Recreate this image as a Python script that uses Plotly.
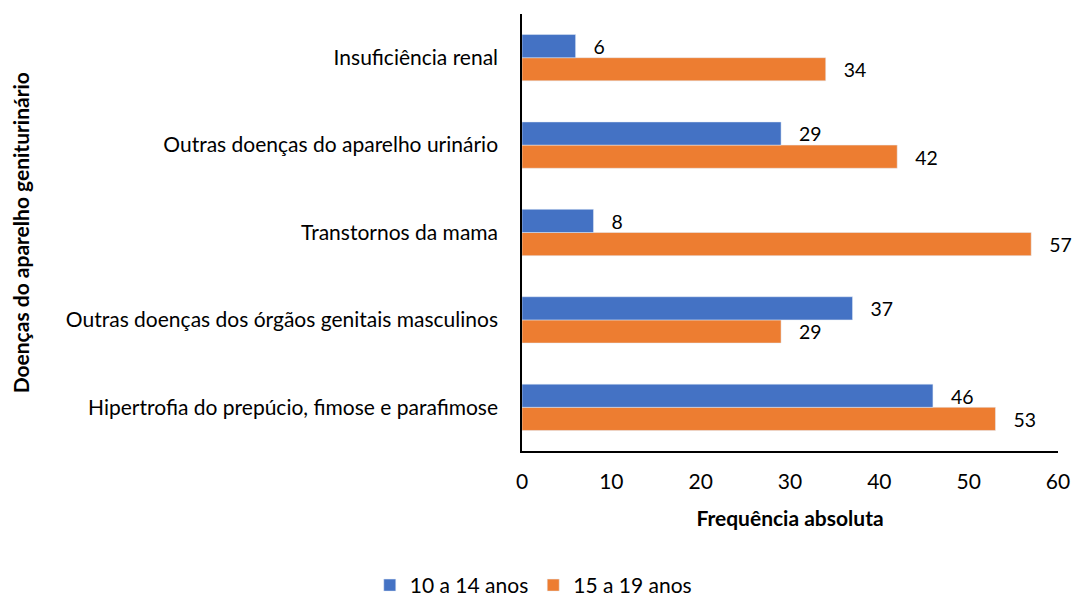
import plotly.graph_objects as go

# categories listed bottom to top
categories = [
    "Hipertrofia do prepúcio, fimose e parafimose",
    "Outras doenças dos órgãos genitais masculinos",
    "Transtornos da mama",
    "Outras doenças do aparelho urinário",
    "Insuficiência renal",
]
age_10_14 = [46, 37, 8, 29, 6]
age_15_19 = [53, 29, 57, 42, 34]
x_ticks = [0, 10, 20, 30, 40, 50, 60]

FONT = "Lato, Calibri, sans-serif"
FS = 21
PAD = "\u00a0\u00a0\u00a0"  # push the value labels away from bar ends

fig = go.Figure()
# orange trace first so blue sits on top inside each group
fig.add_trace(go.Bar(
    y=categories, x=age_15_19, orientation="h", name="15 a 19 anos",
    marker_color="#ED7D31", texttemplate=PAD + "%{x}", textposition="outside",
    textfont=dict(size=FS, color="#000000"), cliponaxis=False,
))
fig.add_trace(go.Bar(
    y=categories, x=age_10_14, orientation="h", name="10 a 14 anos",
    marker_color="#4472C4", texttemplate=PAD + "%{x}", textposition="outside",
    textfont=dict(size=FS, color="#000000"), cliponaxis=False,
))

# page body adds an 8px margin, so shift everything up/left by 8px
fig.update_layout(
    width=1072, height=599,
    barmode="group", bargap=0.47, bargroupgap=0,
    plot_bgcolor="white", paper_bgcolor="white",
    font=dict(family=FONT, size=FS, color="#000000"),
    margin=dict(l=514, r=22, t=6, b=156),
    xaxis=dict(
        range=[0, 60], tickvals=x_ticks, showgrid=False, zeroline=False,
        showline=True, linecolor="#000000", linewidth=1.5, ticks="",
        tickfont=dict(size=FS), ticklabelstandoff=11,
        title=dict(text="<b>Frequência absoluta</b>", font=dict(size=FS), standoff=19),
    ),
    yaxis=dict(
        showgrid=False, showline=True, linecolor="#000000", linewidth=1.5,
        ticks="", tickfont=dict(size=FS), ticklabelstandoff=18,
    ),
    legend=dict(
        orientation="h", traceorder="reversed",
        xref="container", yref="container", x=0.49, xanchor="center",
        y=0.036, yanchor="middle", font=dict(size=FS),
    ),
    annotations=[dict(
        text="<b>Doenças do aparelho geniturinário</b>", textangle=-90,
        xref="paper", yref="paper", x=-0.935, xanchor="center",
        y=0.5, yanchor="middle", showarrow=False, font=dict(size=FS),
    )],
)

fig.write_html("out.html")
